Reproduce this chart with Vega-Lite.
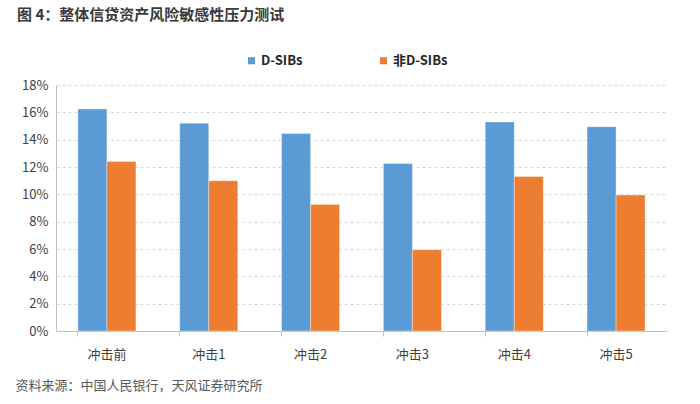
{
  "$schema": "https://vega.github.io/schema/vega-lite/v6.json",
  "width": 611,
  "height": 246,
  "padding": {"left": 15, "top": 8, "right": 5, "bottom": 5},
  "background": "#ffffff",
  "config": {
    "font": "Noto Sans CJK SC",
    "view": {"stroke": null}
  },
  "title": {
    "text": "图 4：整体信贷资产风险敏感性压力测试",
    "anchor": "start",
    "dx": 2,
    "fontSize": 15,
    "fontWeight": "bold",
    "color": "#3a3a3a",
    "offset": 31
  },
  "data": {
    "values": [
      {"cat": "冲击前", "series": "D-SIBs", "value": 16.25},
      {"cat": "冲击前", "series": "非D-SIBs", "value": 12.4},
      {"cat": "冲击1", "series": "D-SIBs", "value": 15.2},
      {"cat": "冲击1", "series": "非D-SIBs", "value": 11.0},
      {"cat": "冲击2", "series": "D-SIBs", "value": 14.45},
      {"cat": "冲击2", "series": "非D-SIBs", "value": 9.25},
      {"cat": "冲击3", "series": "D-SIBs", "value": 12.25},
      {"cat": "冲击3", "series": "非D-SIBs", "value": 5.95},
      {"cat": "冲击4", "series": "D-SIBs", "value": 15.3},
      {"cat": "冲击4", "series": "非D-SIBs", "value": 11.3},
      {"cat": "冲击5", "series": "D-SIBs", "value": 14.95},
      {"cat": "冲击5", "series": "非D-SIBs", "value": 9.95}
    ]
  },
  "mark": {"type": "bar", "stroke": "#ffffff", "strokeWidth": 0.6, "strokeOpacity": 0.6},
  "encoding": {
    "x": {
      "field": "cat",
      "type": "nominal",
      "sort": ["冲击前", "冲击1", "冲击2", "冲击3", "冲击4", "冲击5"],
      "scale": {"paddingInner": 0.43, "paddingOuter": 0.215},
      "axis": {
        "title": "资料来源：中国人民银行，天风证券研究所",
        "titleAnchor": "start",
        "titleAlign": "left",
        "titleBaseline": "middle",
        "titleX": -41,
        "titleY": 54,
        "titleFontSize": 13,
        "titleFontWeight": "normal",
        "titleColor": "#595959",
        "labelAngle": 0,
        "labelFontSize": 13,
        "labelColor": "#404040",
        "labelPadding": 12,
        "bandPosition": 0,
        "ticks": true,
        "tickSize": 5,
        "tickColor": "#BFBFBF",
        "domainColor": "#BFBFBF",
        "grid": false
      }
    },
    "xOffset": {
      "field": "series",
      "type": "nominal",
      "sort": ["D-SIBs", "非D-SIBs"],
      "scale": {"paddingInner": 0, "paddingOuter": 0}
    },
    "y": {
      "field": "value",
      "type": "quantitative",
      "scale": {"domain": [0, 18], "nice": false},
      "axis": {
        "title": null,
        "values": [0, 2, 4, 6, 8, 10, 12, 14, 16, 18],
        "labelExpr": "datum.value + '%'",
        "labelFontSize": 13,
        "labelColor": "#404040",
        "labelPadding": 8,
        "ticks": false,
        "domain": true,
        "domainColor": "#BFBFBF",
        "grid": true,
        "gridColor": "#D9D9D9",
        "gridDash": [3, 3]
      }
    },
    "color": {
      "field": "series",
      "type": "nominal",
      "scale": {"domain": ["D-SIBs", "非D-SIBs"], "range": ["#5B9BD5", "#ED7D31"]},
      "legend": {
        "title": null,
        "orient": "none",
        "direction": "horizontal",
        "legendX": 189,
        "legendY": -31,
        "padding": 0,
        "columnPadding": 74,
        "symbolType": "square",
        "symbolSize": 50,
        "symbolStrokeWidth": 0,
        "labelFontSize": 13,
        "labelFontWeight": "bold",
        "labelColor": "#262626",
        "labelOffset": 3
      }
    }
  }
}
